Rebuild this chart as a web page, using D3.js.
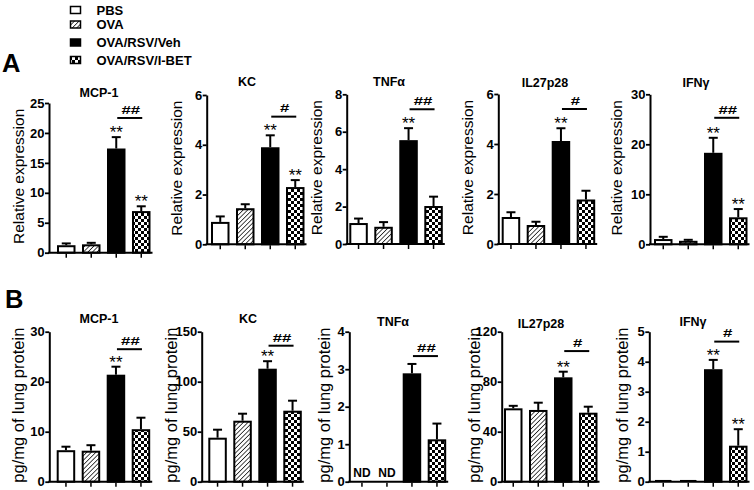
<!DOCTYPE html>
<html><head><meta charset="utf-8">
<script src="https://cdn.jsdelivr.net/npm/d3@7"></script>
<style>body{margin:0;background:#fff}svg{display:block}text{font-family:"Liberation Sans",Arial,Helvetica,sans-serif;fill:#000}</style>
</head><body><svg id="c" width="754" height="490"></svg>
<script>
// ---------- DATA ----------
const groups = ["PBS", "OVA", "OVA/RSV/Veh", "OVA/RSV/I-BET"];
const cytokines = ["MCP-1", "KC", "TNFα", "IL27p28", "IFNγ"];
const panelLetters = ["A", "B"];
const yLabelA = "Relative expression";
const yLabelB = "pg/mg of lung protein";

// Panel A: relative mRNA expression (mean, SEM)
const mrnaMean = [[1.25, 1.4, 17.4, 6.95], [0.9, 1.45, 3.9, 2.3], [1.12, 0.92, 5.55, 2.03], [1.08, 0.76, 4.12, 1.78], [1.05, 0.7, 18.3, 5.4]];
const mrnaErr  = [[0.3, 0.25, 1.9, 0.8], [0.22, 0.16, 0.48, 0.28], [0.24, 0.25, 0.64, 0.5], [0.19, 0.13, 0.51, 0.35], [0.45, 0.2, 3.0, 1.65]];
const mrnaMax = [25, 6, 8, 6, 30];
const mrnaTicks = [[0, 5, 10, 15, 20, 25], [0, 2, 4, 6], [0, 2, 4, 6, 8], [0, 2, 4, 6], [0, 10, 20, 30]];
const mrnaStars = [["", "", "**", "**"], ["", "", "**", "**"], ["", "", "**", ""], ["", "", "**", ""], ["", "", "**", "**"]];
const mrnaHash = ["##", "#", "##", "#", "##"];
const mrnaHashLevel = [22.5, 5.13, 7.2, 5.4, 25.3];

// Panel B: protein (pg/mg of lung protein)
const protMean = [[6.3, 6.2, 21.4, 10.5], [44, 61, 113, 71], [null, null, 2.89, 1.13], [58.7, 57.4, 83.5, 55.2], [0.02, 0.02, 3.75, 1.2]];
const protErr  = [[0.7, 1.1, 1.6, 2.3], [8, 7, 7.5, 10], [null, null, 0.25, 0.42], [2, 5.8, 4.5, 4.8], [0, 0, 0.31, 0.55]];
const protMax = [30, 150, 4, 120, 5];
const protTicks = [[0, 10, 20, 30], [0, 50, 100, 150], [0, 1, 2, 3, 4], [0, 40, 80, 120], [0, 1, 2, 3, 4, 5]];
const protStars = [["", "", "**", ""], ["", "", "**", ""], ["", "", "", ""], ["", "", "**", ""], ["", "", "**", "**"]];
const protHash = ["##", "##", "##", "#", "#"];
const protHashLevel = [26.5, 136, 3.35, 104.5, 4.67];
const ndText = "ND";

// ---------- LAYOUT ----------
const layoutA = {
  axisX: [49, 206.7, 346.7, 498.3, 650], barStart: [57, 211, 349.3, 501.7, 654],
  top: [103, 95, 94.3, 94, 94.3], bottom: [252.7, 244.3, 244, 244, 244.3],
  titleX: [99, 247, 389, 545, 696], titleY: [96.5, 86, 86, 86.5, 86.5],
  labelX: [18.5, 176, 316, 467.5, 616], labelSize: 15.5
};
const layoutB = {
  axisX: [49.3, 201.7, 349.3, 501.7, 649.3], barStart: [56.7, 208.3, 352.7, 504, 654],
  top: [331.7, 331.7, 331.7, 331.7, 331.7], bottom: [481.7, 481.7, 481.7, 481.7, 481.7],
  titleX: [99, 248, 393, 541, 693], titleY: [323, 323, 326, 327.5, 326],
  labelX: [18.3, 170.5, 324, 474, 622.3], labelSize: 16.5
};

const svg = d3.select("#c");
const defs = svg.append("defs");
// diagonal hatch
const hatch = defs.append("pattern").attr("id", "hatch").attr("patternUnits", "userSpaceOnUse")
  .attr("width", 3.2).attr("height", 3.2).attr("patternTransform", "rotate(45)");
hatch.append("rect").attr("width", 3.2).attr("height", 3.2).attr("fill", "#fff");
hatch.append("line").attr("x1", 0).attr("y1", 0).attr("x2", 0).attr("y2", 3.2).attr("stroke", "#000").attr("stroke-width", 1.4);
// checkerboard
const check = defs.append("pattern").attr("id", "check").attr("patternUnits", "userSpaceOnUse")
  .attr("width", 6).attr("height", 6);
check.append("rect").attr("width", 6).attr("height", 6).attr("fill", "#fff");
check.append("rect").attr("width", 3).attr("height", 3).attr("fill", "#000");
check.append("rect").attr("x", 3).attr("y", 3).attr("width", 3).attr("height", 3).attr("fill", "#000");

const fills = ["#fff", "url(#hatch)", "#000", "url(#check)"];

// ---------- LEGEND ----------
const legendCenters = [10, 24.5, 42.5, 60];
const leg = svg.append("g");
groups.forEach((g, i) => {
  leg.append("rect").attr("x", 70.5).attr("y", legendCenters[i] - 3.5).attr("width", 10).attr("height", 7)
    .attr("fill", fills[i]).attr("stroke", "#000").attr("stroke-width", 1.5);
  leg.append("text").attr("x", 96.5).attr("y", legendCenters[i] + 4.6).attr("font-size", 13)
    .attr("font-weight", "bold").text(g);
});

svg.append("text").attr("x", 2).attr("y", 72).attr("font-size", 25.5).attr("font-weight", "bold").text(panelLetters[0]);
svg.append("text").attr("x", 5).attr("y", 308).attr("font-size", 25.5).attr("font-weight", "bold").text(panelLetters[1]);

// ---------- PANELS ----------
function drawPanel(k, L, means, errs, maxV, ticks, stars, hash, hashLevel, yLabel, nd) {
  const g = svg.append("g");
  const y = d3.scaleLinear().domain([0, maxV]).range([L.bottom[k], L.top[k]]);
  const x0 = L.barStart[k] - 3.25;
  const x = d3.scaleBand().domain(groups).range([x0, x0 + 100]).paddingInner(0.26).paddingOuter(0.13);
  const bw = x.bandwidth();
  const ax = L.axisX[k];

  // bars
  groups.forEach((grp, i) => {
    const m = means[i];
    if (m === null) return;
    const yt = y(m), y0 = y(0);
    const h = Math.max(0, y0 - yt);
    if (h < 1.5) {
      g.append("line").attr("x1", x(grp) + 1).attr("x2", x(grp) + bw - 1).attr("y1", y0 - 1).attr("y2", y0 - 1)
        .attr("stroke", "#000").attr("stroke-width", 1.5);
    } else {
      g.append("rect").attr("x", x(grp) + 1).attr("y", yt + 1).attr("width", bw - 2).attr("height", h - 1)
        .attr("fill", fills[i]).attr("stroke", "#000").attr("stroke-width", 2);
    }
    const e = errs[i];
    if (e) {
      const cx = x(grp) + bw / 2, ye = y(m + e);
      g.append("line").attr("x1", cx).attr("x2", cx).attr("y1", yt).attr("y2", ye).attr("stroke", "#000").attr("stroke-width", 2);
      g.append("line").attr("x1", cx - 4.5).attr("x2", cx + 4.5).attr("y1", ye).attr("y2", ye).attr("stroke", "#000").attr("stroke-width", 2);
    }
    if (stars[i]) {
      const top = y(m + (e || 0));
      g.append("text").attr("x", x(grp) + bw / 2).attr("y", top + 1).attr("text-anchor", "middle")
        .attr("font-size", 17).text(stars[i]);
    }
  });
  if (nd) {
    groups.forEach((grp, i) => {
      if (means[i] === null) g.append("text").attr("x", x(grp) + bw / 2).attr("y", L.bottom[k] - 5)
        .attr("text-anchor", "middle").attr("font-size", 12).attr("font-weight", "bold").text(nd);
    });
  }

  // significance line Veh vs I-BET
  const xa = x(groups[2]) + bw / 2 + 1, xb = x(groups[3]) + bw / 2 + 1;
  const yl = y(hashLevel);
  g.append("line").attr("x1", xa).attr("x2", xb).attr("y1", yl).attr("y2", yl).attr("stroke", "#000").attr("stroke-width", 2);
  g.append("text").attr("transform", `translate(${(xa + xb) / 2 + 1},${yl - 4.2}) scale(1.05,0.66)`)
    .attr("text-anchor", "middle").attr("font-size", 16).attr("font-weight", "bold").text(hash);

  // y axis
  const yAxis = g.append("g").attr("transform", `translate(${ax},0)`)
    .call(d3.axisLeft(y).tickValues(ticks).tickSize(4).tickSizeOuter(0).tickPadding(0.5).tickFormat(d3.format("d")));
  yAxis.select(".domain").attr("stroke", "#000").attr("stroke-width", 2);
  yAxis.selectAll(".tick line").attr("stroke", "#000").attr("stroke-width", 1.8);
  yAxis.selectAll(".tick text").attr("font-size", 13).attr("font-weight", "bold")
    .attr("font-family", "'Liberation Sans',Arial,sans-serif").attr("fill", "#000");

  // x axis
  const xAxis = g.append("g").attr("transform", `translate(0,${L.bottom[k]})`)
    .call(d3.axisBottom(x).tickSize(4).tickSizeOuter(0).tickFormat(""));
  xAxis.select(".domain").remove();
  xAxis.selectAll(".tick line").attr("stroke", "#000").attr("stroke-width", 1.5).attr("transform", "translate(0,1)");
  g.append("line").attr("x1", ax - 1).attr("x2", x(groups[3]) + bw + 2).attr("y1", L.bottom[k]).attr("y2", L.bottom[k])
    .attr("stroke", "#000").attr("stroke-width", 2);

  // title
  g.append("text").attr("x", L.titleX[k]).attr("y", L.titleY[k]).attr("text-anchor", "middle")
    .attr("font-size", 12.5).attr("font-weight", "bold").text(cytokines[k]);
  // y label
  const cy = (L.top[k] + L.bottom[k]) / 2 - 1.5;
  g.append("text").attr("transform", `translate(${L.labelX[k]},${cy}) rotate(-90)`)
    .attr("text-anchor", "middle").attr("dominant-baseline", "central")
    .attr("font-size", L.labelSize).text(yLabel);
}

cytokines.forEach((c, k) => {
  drawPanel(k, layoutA, mrnaMean[k], mrnaErr[k], mrnaMax[k], mrnaTicks[k], mrnaStars[k], mrnaHash[k], mrnaHashLevel[k], yLabelA, null);
  drawPanel(k, layoutB, protMean[k], protErr[k], protMax[k], protTicks[k], protStars[k], protHash[k], protHashLevel[k], yLabelB, ndText);
});
</script></body></html>
